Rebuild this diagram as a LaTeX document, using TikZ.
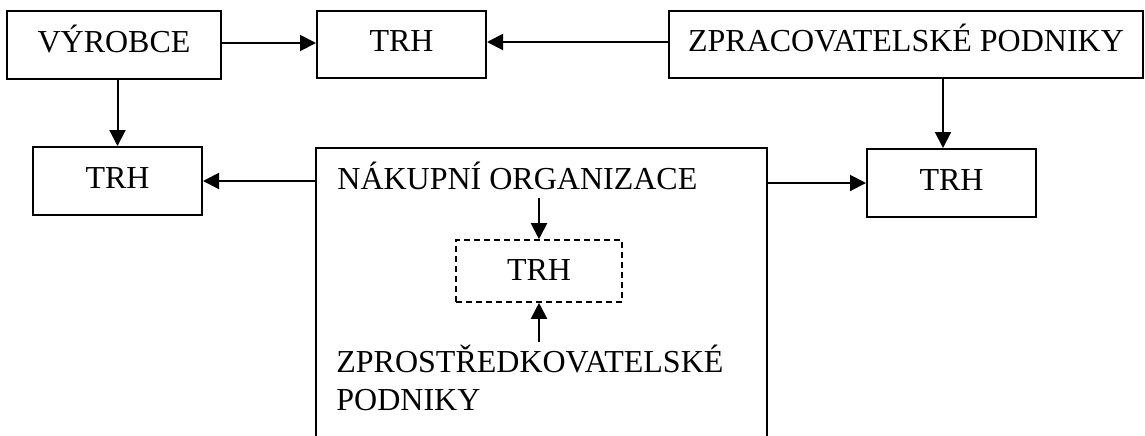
\documentclass[tikz,border=0pt]{standalone}
\usepackage{fontspec}
\setmainfont{Liberation Serif}
\usetikzlibrary{arrows.meta}
\begin{document}
\begin{tikzpicture}[x=0.5pt,y=-0.5pt,
  every node/.style={font=\fontsize{16}{19}\selectfont},
  box/.style={draw,line width=1pt,inner sep=0pt,text height=10.6pt,text depth=3.5pt},
  dbox/.style={draw,line width=0.8pt,dash pattern=on 3pt off 2pt,inner sep=0pt,text height=10.6pt,text depth=1pt},
  txt/.style={inner sep=0pt},
  arr/.style={line width=1pt,-{Triangle[length=8pt,width=8pt]}}]
\useasboundingbox (0,0) rectangle (1145,435);
% boxes
\node[box,minimum width=107pt,minimum height=34pt] (vyr) at (114,45) {VÝROBCE};
\node[box,minimum width=84.5pt,minimum height=33.5pt] (trh1) at (401.5,44.5) {TRH};
\node[box,minimum width=237pt,minimum height=33.5pt] (zpr) at (906,44.5) {ZPRACOVATELSKÉ PODNIKY};
\node[box,minimum width=84.5pt,minimum height=34pt] (trhL) at (117.5,181) {TRH};
\node[box,minimum width=84.5pt,minimum height=34pt] (trhR) at (951.5,183) {TRH};
% big open box
\node[inner sep=0pt,minimum width=225.5pt,minimum height=147pt] (big) at (541.5,295) {};
\draw[line width=1pt] (big.south west) -- (big.north west) -- (big.north east) -- (big.south east);
% inner content
\node[txt,anchor=base west] (nak) at (337,189) {NÁKUPNÍ ORGANIZACE};
\node[dbox,minimum width=83pt,minimum height=31pt] (dash) at (539,271) {TRH};
\node[txt,anchor=base west] (zpro) at (336,372) {\begin{tabular}[t]{@{}l@{}}ZPROSTŘEDKOVATELSKÉ\\PODNIKY\end{tabular}};
% connectors
\draw[arr] (vyr.east |- 0,43) -- (trh1.west |- 0,43);
\draw[arr] (zpr.west |- 0,42) -- (trh1.east |- 0,42);
\draw[arr] (trhL.north |- vyr.south) -- (trhL.north);
\draw[arr] ([xshift=-4.25pt]trhR.north |- zpr.south) -- ([xshift=-4.25pt]trhR.north);
\draw[arr] (trhL.east -| big.west) -- (trhL.east);
\draw[arr] (trhR.west -| big.east) -- (trhR.west);
\draw[arr] ([yshift=-4pt]dash.north |- nak.south) -- (dash.north);
\draw[arr] ([yshift=1pt]dash.south |- zpro.north) -- (dash.south);
\end{tikzpicture}
\end{document}
